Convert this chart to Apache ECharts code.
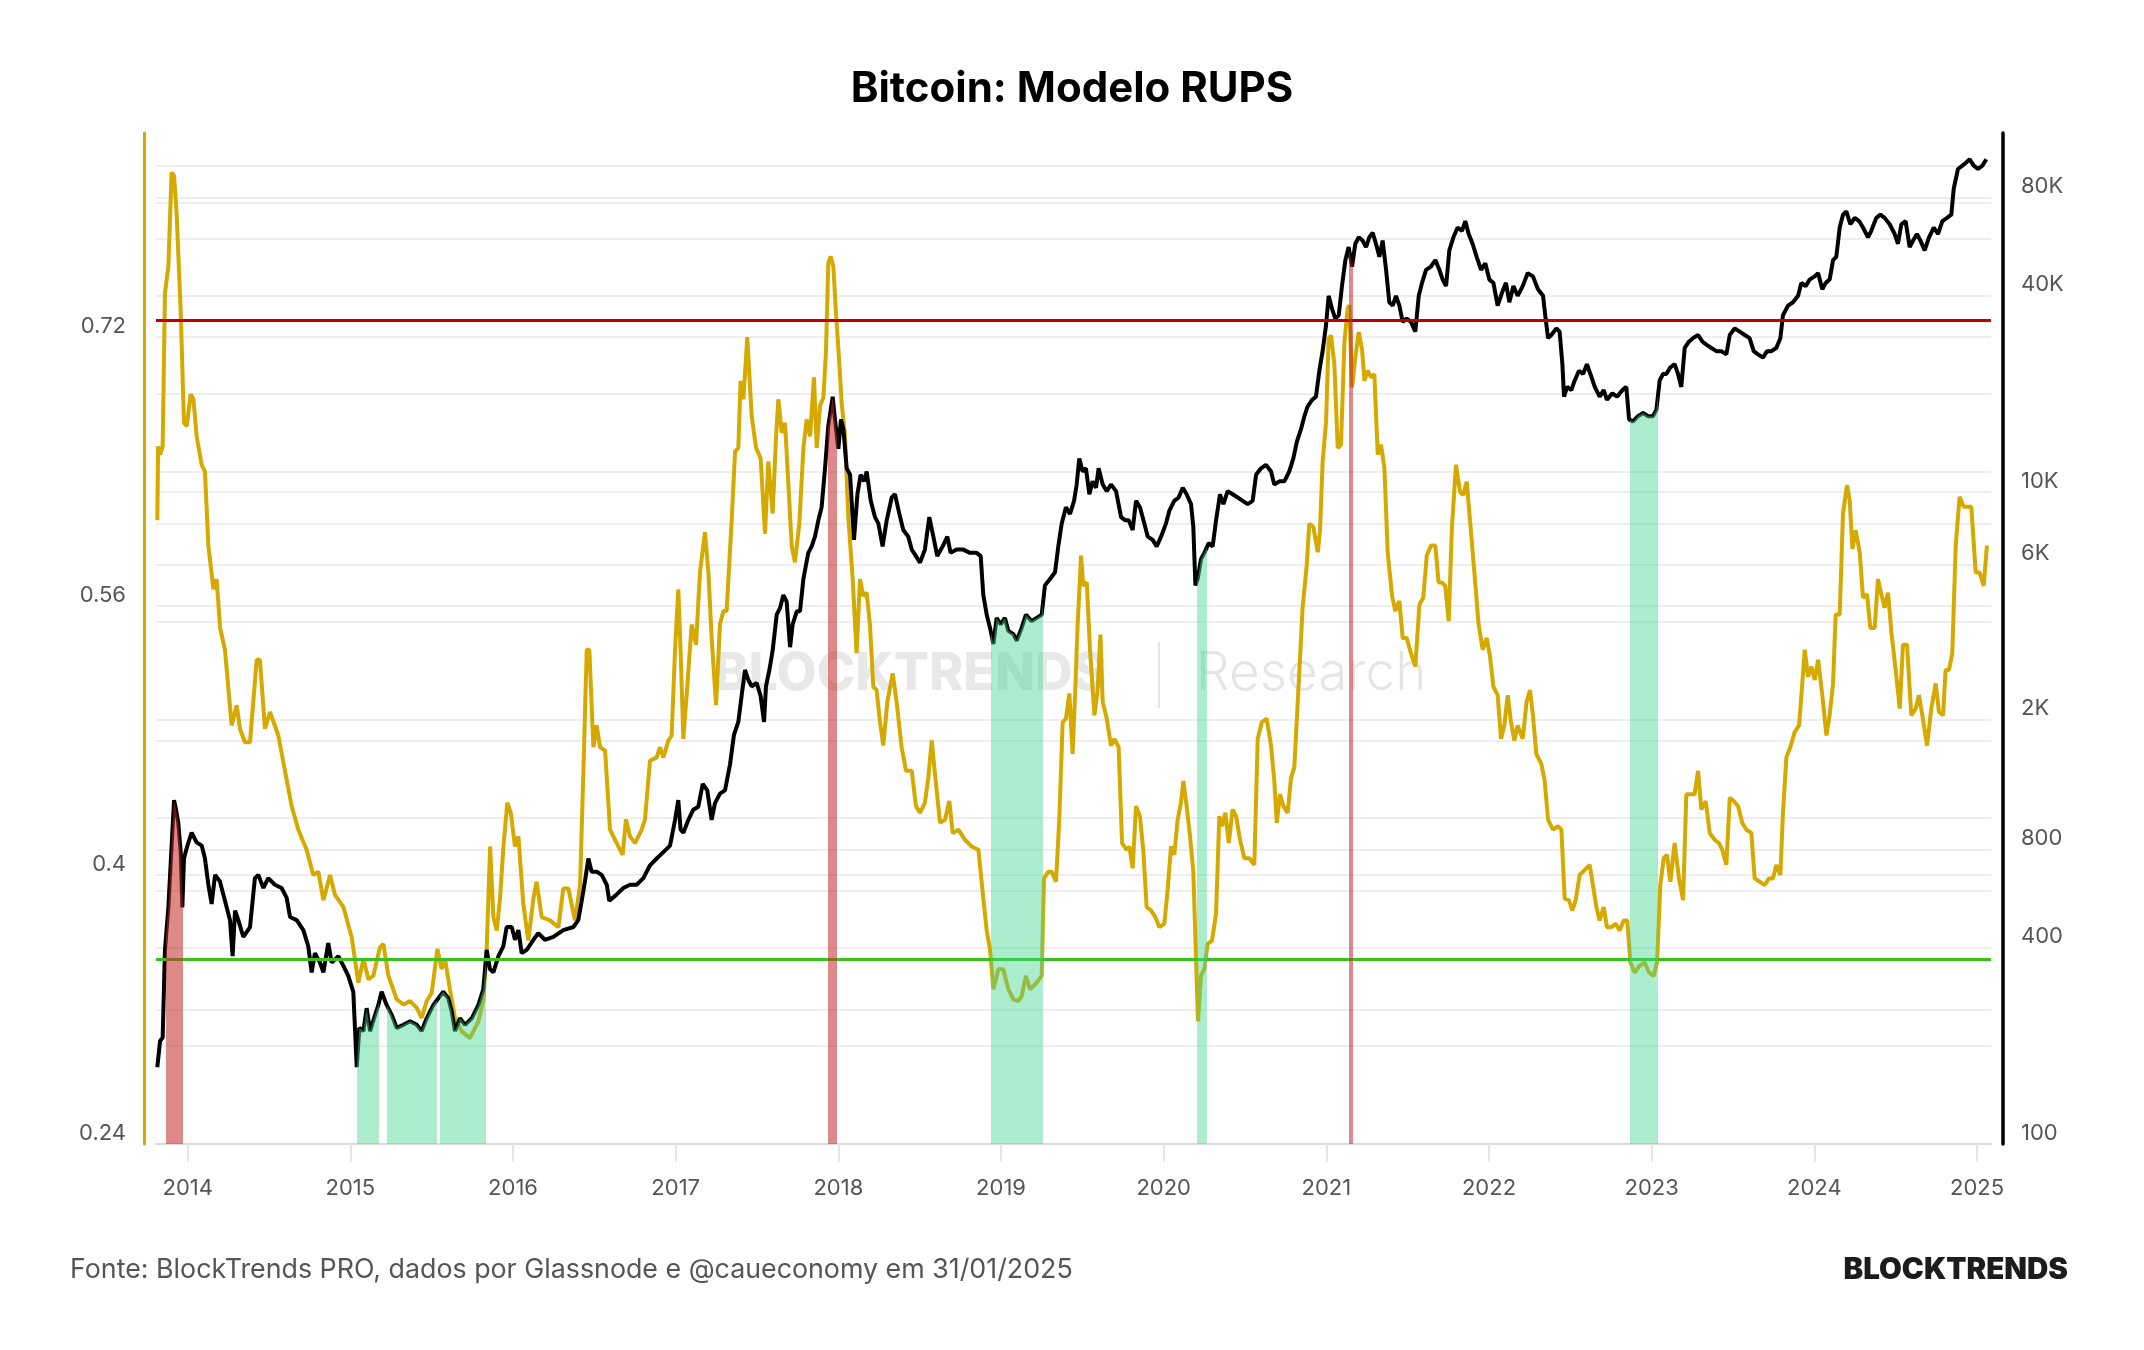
<!DOCTYPE html>
<html>
<head>
<meta charset="utf-8">
<title>Bitcoin: Modelo RUPS</title>
<script src="https://cdn.jsdelivr.net/npm/echarts@6.0.0/dist/echarts.min.js"></script>
<style>
	html, body { margin: 0; padding: 0; background: #fff; }
	#chart { width: 2144px; height: 1350px; }
</style>
</head>
<body>
<div id="chart"></div>
<script>
// eixo x em anos decimais
const rupsYears = [
	2013.813, 2013.818, 2013.830, 2013.846, 2013.860, 2013.881, 2013.901, 2013.916, 2013.932, 2013.957, 2013.977, 2013.994,
	2014.018, 2014.035, 2014.055, 2014.086, 2014.106, 2014.127, 2014.158, 2014.178, 2014.199, 2014.229, 2014.270, 2014.301, 2014.321, 2014.352, 2014.383, 2014.424, 2014.444, 2014.475, 2014.506, 2014.557, 2014.598, 2014.639, 2014.680, 2014.731, 2014.772, 2014.803, 2014.834, 2014.875, 2014.906, 2014.957,
	2015.008, 2015.049, 2015.080, 2015.111, 2015.141, 2015.182, 2015.203, 2015.234, 2015.285, 2015.326, 2015.367, 2015.408, 2015.438, 2015.469, 2015.500, 2015.535, 2015.561, 2015.582, 2015.612, 2015.643, 2015.684, 2015.735, 2015.787, 2015.818, 2015.838, 2015.859, 2015.879, 2015.900, 2015.920, 2015.941, 2015.965, 2015.986,
	2016.012, 2016.033, 2016.063, 2016.094, 2016.125, 2016.145, 2016.176, 2016.227, 2016.279, 2016.309, 2016.340, 2016.381, 2016.412, 2016.432, 2016.453, 2016.469, 2016.494, 2016.514, 2016.535, 2016.566, 2016.596, 2016.647, 2016.674, 2016.694, 2016.719, 2016.750, 2016.791, 2016.811, 2016.842, 2016.883, 2016.903, 2016.924, 2016.955, 2016.975, 2016.996,
	2017.016, 2017.030, 2017.047, 2017.071, 2017.098, 2017.125, 2017.149, 2017.180, 2017.201, 2017.221, 2017.248, 2017.272, 2017.293, 2017.313, 2017.344, 2017.365, 2017.385, 2017.399, 2017.416, 2017.440, 2017.467, 2017.494, 2017.522, 2017.549, 2017.569, 2017.596, 2017.617, 2017.631, 2017.652, 2017.672, 2017.693, 2017.713, 2017.733, 2017.760, 2017.785, 2017.805, 2017.826, 2017.850, 2017.867, 2017.887, 2017.908, 2017.924, 2017.938, 2017.953, 2017.969, 2017.985,
	2018.006, 2018.020, 2018.041, 2018.061, 2018.088, 2018.112, 2018.133, 2018.153, 2018.174, 2018.194, 2018.215, 2018.235, 2018.256, 2018.276, 2018.301, 2018.334, 2018.358, 2018.389, 2018.416, 2018.451, 2018.477, 2018.502, 2018.532, 2018.553, 2018.574, 2018.594, 2018.625, 2018.656, 2018.682, 2018.703, 2018.738, 2018.778, 2018.819, 2018.861, 2018.891, 2018.912, 2018.932, 2018.953, 2018.984,
	2019.014, 2019.045, 2019.076, 2019.106, 2019.127, 2019.153, 2019.178, 2019.219, 2019.250, 2019.264, 2019.291, 2019.311, 2019.338, 2019.358, 2019.379, 2019.399, 2019.420, 2019.440, 2019.455, 2019.471, 2019.492, 2019.506, 2019.527, 2019.547, 2019.574, 2019.594, 2019.611, 2019.625, 2019.650, 2019.676, 2019.697, 2019.723, 2019.744, 2019.772, 2019.789, 2019.809, 2019.830, 2019.854, 2019.875, 2019.895, 2019.922, 2019.949, 2019.973,
	2020.004, 2020.025, 2020.045, 2020.065, 2020.086, 2020.106, 2020.121, 2020.141, 2020.162, 2020.182, 2020.199, 2020.211, 2020.229, 2020.250, 2020.270, 2020.297, 2020.322, 2020.342, 2020.359, 2020.379, 2020.400, 2020.424, 2020.445, 2020.469, 2020.496, 2020.527, 2020.557, 2020.578, 2020.604, 2020.633, 2020.660, 2020.680, 2020.695, 2020.715, 2020.736, 2020.762, 2020.783, 2020.803, 2020.830, 2020.854, 2020.879, 2020.895, 2020.920, 2020.947, 2020.961, 2020.977, 2020.998,
	2021.014, 2021.029, 2021.049, 2021.070, 2021.090, 2021.111, 2021.131, 2021.141, 2021.158, 2021.178, 2021.199, 2021.219, 2021.234, 2021.254, 2021.275, 2021.295, 2021.316, 2021.336, 2021.357, 2021.377, 2021.404, 2021.424, 2021.449, 2021.469, 2021.494, 2021.520, 2021.547, 2021.572, 2021.596, 2021.617, 2021.643, 2021.670, 2021.690, 2021.711, 2021.731, 2021.752, 2021.772, 2021.797, 2021.822, 2021.842, 2021.863, 2021.883, 2021.910, 2021.936, 2021.961, 2021.986,
	2022.006, 2022.027, 2022.053, 2022.074, 2022.094, 2022.115, 2022.135, 2022.156, 2022.176, 2022.207, 2022.231, 2022.252, 2022.270, 2022.291, 2022.322, 2022.342, 2022.363, 2022.393, 2022.424, 2022.445, 2022.465, 2022.492, 2022.512, 2022.533, 2022.557, 2022.578, 2022.598, 2022.619, 2022.639, 2022.660, 2022.680, 2022.705, 2022.725, 2022.752, 2022.779, 2022.803, 2022.828, 2022.850, 2022.869, 2022.895, 2022.926, 2022.957, 2022.984,
	2023.012, 2023.033, 2023.053, 2023.074, 2023.094, 2023.115, 2023.141, 2023.168, 2023.193, 2023.213, 2023.238, 2023.264, 2023.285, 2023.305, 2023.332, 2023.357, 2023.387, 2023.414, 2023.434, 2023.459, 2023.480, 2023.504, 2023.531, 2023.557, 2023.582, 2023.613, 2023.633, 2023.664, 2023.695, 2023.721, 2023.746, 2023.766, 2023.791, 2023.807, 2023.828, 2023.852, 2023.879, 2023.906, 2023.926, 2023.941, 2023.961, 2023.982,
	2024.002, 2024.023, 2024.049, 2024.074, 2024.094, 2024.115, 2024.131, 2024.156, 2024.176, 2024.201, 2024.217, 2024.234, 2024.254, 2024.279, 2024.299, 2024.324, 2024.344, 2024.371, 2024.391, 2024.412, 2024.432, 2024.453, 2024.473, 2024.500, 2024.525, 2024.545, 2024.570, 2024.596, 2024.623, 2024.643, 2024.664, 2024.693, 2024.719, 2024.746, 2024.766, 2024.791, 2024.807, 2024.828, 2024.848, 2024.869, 2024.893, 2024.918, 2024.945, 2024.965, 2024.992,
	2025.016, 2025.041, 2025.061
];
const rupsValues = [
	0.611, 0.655, 0.650, 0.655, 0.746, 0.762, 0.818, 0.816, 0.793, 0.735, 0.669, 0.667,
	0.686, 0.683, 0.661, 0.644, 0.640, 0.596, 0.570, 0.576, 0.547, 0.534, 0.489, 0.501, 0.487, 0.479, 0.479, 0.528, 0.528, 0.487, 0.497, 0.483, 0.462, 0.441, 0.427, 0.415, 0.400, 0.402, 0.385, 0.400, 0.388, 0.381,
	0.363, 0.336, 0.350, 0.338, 0.340, 0.357, 0.359, 0.340, 0.326, 0.323, 0.325, 0.321, 0.315, 0.325, 0.330, 0.356, 0.344, 0.350, 0.332, 0.315, 0.307, 0.303, 0.313, 0.326, 0.356, 0.417, 0.375, 0.367, 0.386, 0.417, 0.443, 0.437,
	0.417, 0.423, 0.383, 0.361, 0.386, 0.396, 0.375, 0.373, 0.369, 0.392, 0.392, 0.373, 0.394, 0.460, 0.534, 0.534, 0.476, 0.489, 0.476, 0.474, 0.427, 0.417, 0.412, 0.433, 0.423, 0.419, 0.427, 0.433, 0.468, 0.470, 0.476, 0.470, 0.480, 0.483, 0.534,
	0.570, 0.534, 0.481, 0.512, 0.549, 0.537, 0.580, 0.604, 0.580, 0.541, 0.501, 0.549, 0.557, 0.557, 0.611, 0.652, 0.654, 0.694, 0.683, 0.720, 0.673, 0.654, 0.648, 0.603, 0.646, 0.615, 0.661, 0.683, 0.663, 0.669, 0.632, 0.596, 0.586, 0.609, 0.654, 0.671, 0.661, 0.696, 0.654, 0.679, 0.684, 0.712, 0.764, 0.768, 0.762, 0.735,
	0.704, 0.681, 0.661, 0.613, 0.576, 0.532, 0.576, 0.566, 0.568, 0.549, 0.512, 0.510, 0.491, 0.477, 0.503, 0.520, 0.503, 0.476, 0.462, 0.462, 0.441, 0.437, 0.443, 0.458, 0.480, 0.460, 0.431, 0.433, 0.444, 0.425, 0.427, 0.421, 0.417, 0.415, 0.386, 0.367, 0.356, 0.332, 0.344,
	0.344, 0.332, 0.326, 0.325, 0.328, 0.340, 0.332, 0.336, 0.340, 0.398, 0.402, 0.402, 0.396, 0.433, 0.491, 0.493, 0.508, 0.472, 0.507, 0.549, 0.590, 0.572, 0.574, 0.534, 0.495, 0.510, 0.543, 0.503, 0.493, 0.477, 0.481, 0.476, 0.419, 0.415, 0.417, 0.404, 0.441, 0.435, 0.414, 0.381, 0.379, 0.375, 0.369,
	0.371, 0.392, 0.417, 0.412, 0.433, 0.443, 0.456, 0.441, 0.423, 0.402, 0.350, 0.313, 0.340, 0.344, 0.359, 0.361, 0.377, 0.435, 0.429, 0.437, 0.419, 0.439, 0.435, 0.421, 0.410, 0.410, 0.406, 0.481, 0.491, 0.493, 0.477, 0.456, 0.431, 0.448, 0.441, 0.437, 0.458, 0.464, 0.514, 0.559, 0.584, 0.609, 0.607, 0.592, 0.605, 0.646, 0.669,
	0.719, 0.721, 0.704, 0.654, 0.656, 0.717, 0.737, 0.739, 0.690, 0.708, 0.723, 0.713, 0.694, 0.700, 0.696, 0.698, 0.650, 0.656, 0.642, 0.592, 0.566, 0.557, 0.563, 0.541, 0.541, 0.532, 0.524, 0.561, 0.565, 0.590, 0.596, 0.596, 0.574, 0.574, 0.572, 0.551, 0.607, 0.644, 0.628, 0.626, 0.634, 0.611, 0.580, 0.549, 0.534, 0.541,
	0.530, 0.512, 0.507, 0.481, 0.489, 0.507, 0.491, 0.480, 0.489, 0.481, 0.503, 0.510, 0.495, 0.472, 0.466, 0.456, 0.433, 0.427, 0.429, 0.427, 0.386, 0.385, 0.379, 0.385, 0.400, 0.402, 0.404, 0.406, 0.394, 0.381, 0.373, 0.381, 0.369, 0.369, 0.371, 0.367, 0.373, 0.373, 0.348, 0.342, 0.346, 0.348, 0.342,
	0.340, 0.348, 0.394, 0.410, 0.412, 0.396, 0.419, 0.398, 0.385, 0.448, 0.448, 0.448, 0.462, 0.439, 0.444, 0.425, 0.421, 0.419, 0.415, 0.406, 0.446, 0.444, 0.441, 0.431, 0.427, 0.425, 0.398, 0.396, 0.394, 0.398, 0.398, 0.406, 0.400, 0.437, 0.470, 0.476, 0.485, 0.489, 0.514, 0.534, 0.518, 0.524,
	0.516, 0.528, 0.507, 0.483, 0.495, 0.514, 0.555, 0.555, 0.615, 0.632, 0.623, 0.594, 0.605, 0.592, 0.565, 0.567, 0.547, 0.547, 0.576, 0.567, 0.559, 0.568, 0.545, 0.522, 0.499, 0.537, 0.537, 0.495, 0.499, 0.507, 0.495, 0.477, 0.499, 0.514, 0.497, 0.495, 0.522, 0.522, 0.532, 0.596, 0.625, 0.619, 0.619, 0.619, 0.580,
	0.580, 0.572, 0.596
];

const priceYears = [
	2013.813, 2013.830, 2013.846, 2013.860, 2013.881, 2013.901, 2013.916, 2013.928, 2013.942, 2013.957, 2013.967, 2013.977, 2013.998,
	2014.024, 2014.055, 2014.086, 2014.106, 2014.127, 2014.147, 2014.168, 2014.198, 2014.229, 2014.260, 2014.276, 2014.291, 2014.311, 2014.342, 2014.383, 2014.413, 2014.434, 2014.465, 2014.495, 2014.536, 2014.577, 2014.608, 2014.629, 2014.670, 2014.711, 2014.741, 2014.762, 2014.782, 2014.813, 2014.834, 2014.864, 2014.885, 2014.926, 2014.957, 2014.987,
	2015.018, 2015.039, 2015.055, 2015.080, 2015.100, 2015.121, 2015.152, 2015.172, 2015.192, 2015.223, 2015.254, 2015.285, 2015.326, 2015.367, 2015.408, 2015.438, 2015.469, 2015.510, 2015.541, 2015.571, 2015.602, 2015.623, 2015.643, 2015.674, 2015.705, 2015.746, 2015.787, 2015.817, 2015.838, 2015.858, 2015.879, 2015.910, 2015.940, 2015.961, 2015.992,
	2016.012, 2016.033, 2016.053, 2016.084, 2016.125, 2016.155, 2016.196, 2016.248, 2016.309, 2016.371, 2016.401, 2016.422, 2016.442, 2016.463, 2016.483, 2016.514, 2016.545, 2016.576, 2016.592, 2016.637, 2016.678, 2016.719, 2016.760, 2016.801, 2016.842, 2016.883, 2016.924, 2016.965, 2016.996,
	2017.016, 2017.030, 2017.047, 2017.078, 2017.108, 2017.139, 2017.166, 2017.194, 2017.221, 2017.241, 2017.272, 2017.303, 2017.334, 2017.358, 2017.385, 2017.405, 2017.426, 2017.446, 2017.467, 2017.498, 2017.522, 2017.543, 2017.555, 2017.576, 2017.596, 2017.621, 2017.641, 2017.662, 2017.682, 2017.703, 2017.719, 2017.744, 2017.764, 2017.785, 2017.815, 2017.836, 2017.856, 2017.877, 2017.897, 2017.918, 2017.938, 2017.953, 2017.965, 2017.979,
	2018.000, 2018.016, 2018.031, 2018.051, 2018.072, 2018.096, 2018.117, 2018.137, 2018.158, 2018.174, 2018.199, 2018.225, 2018.246, 2018.272, 2018.297, 2018.328, 2018.348, 2018.375, 2018.399, 2018.430, 2018.451, 2018.477, 2018.502, 2018.532, 2018.559, 2018.584, 2018.608, 2018.641, 2018.670, 2018.690, 2018.727, 2018.768, 2018.809, 2018.850, 2018.875, 2018.891, 2018.912, 2018.932, 2018.953, 2018.973, 2018.998,
	2019.024, 2019.045, 2019.076, 2019.096, 2019.127, 2019.153, 2019.188, 2019.219, 2019.250, 2019.270, 2019.301, 2019.332, 2019.352, 2019.373, 2019.399, 2019.424, 2019.449, 2019.465, 2019.481, 2019.502, 2019.522, 2019.543, 2019.563, 2019.584, 2019.600, 2019.625, 2019.650, 2019.676, 2019.707, 2019.738, 2019.764, 2019.785, 2019.809, 2019.830, 2019.854, 2019.881, 2019.902, 2019.932, 2019.957, 2019.984,
	2020.014, 2020.035, 2020.065, 2020.092, 2020.117, 2020.141, 2020.168, 2020.182, 2020.195, 2020.209, 2020.229, 2020.250, 2020.277, 2020.301, 2020.322, 2020.346, 2020.367, 2020.393, 2020.424, 2020.455, 2020.486, 2020.516, 2020.547, 2020.568, 2020.598, 2020.629, 2020.660, 2020.680, 2020.711, 2020.742, 2020.772, 2020.797, 2020.818, 2020.844, 2020.865, 2020.885, 2020.912, 2020.936, 2020.957, 2020.977, 2020.998,
	2021.014, 2021.035, 2021.055, 2021.076, 2021.096, 2021.117, 2021.137, 2021.158, 2021.178, 2021.199, 2021.223, 2021.244, 2021.264, 2021.285, 2021.305, 2021.326, 2021.346, 2021.367, 2021.387, 2021.408, 2021.428, 2021.449, 2021.469, 2021.494, 2021.520, 2021.547, 2021.568, 2021.588, 2021.613, 2021.643, 2021.670, 2021.695, 2021.715, 2021.736, 2021.756, 2021.781, 2021.807, 2021.834, 2021.854, 2021.875, 2021.899, 2021.924, 2021.951, 2021.977,
	2022.002, 2022.027, 2022.053, 2022.080, 2022.104, 2022.125, 2022.150, 2022.176, 2022.207, 2022.238, 2022.270, 2022.301, 2022.332, 2022.348, 2022.363, 2022.383, 2022.414, 2022.434, 2022.451, 2022.461, 2022.480, 2022.506, 2022.527, 2022.553, 2022.578, 2022.602, 2022.623, 2022.650, 2022.680, 2022.705, 2022.725, 2022.758, 2022.787, 2022.820, 2022.844, 2022.861, 2022.885, 2022.916, 2022.947, 2022.977,
	2023.008, 2023.029, 2023.049, 2023.070, 2023.090, 2023.115, 2023.141, 2023.162, 2023.182, 2023.203, 2023.230, 2023.254, 2023.285, 2023.311, 2023.336, 2023.367, 2023.398, 2023.428, 2023.459, 2023.480, 2023.510, 2023.541, 2023.572, 2023.602, 2023.627, 2023.654, 2023.684, 2023.709, 2023.736, 2023.766, 2023.791, 2023.807, 2023.838, 2023.869, 2023.900, 2023.920, 2023.947, 2023.971,
	2024.002, 2024.023, 2024.049, 2024.070, 2024.094, 2024.115, 2024.135, 2024.156, 2024.176, 2024.197, 2024.221, 2024.248, 2024.275, 2024.299, 2024.330, 2024.350, 2024.381, 2024.406, 2024.432, 2024.463, 2024.494, 2024.514, 2024.535, 2024.561, 2024.586, 2024.607, 2024.631, 2024.652, 2024.678, 2024.705, 2024.734, 2024.760, 2024.787, 2024.816, 2024.842, 2024.857, 2024.883, 2024.910, 2024.934, 2024.955, 2024.980,
	2025.006, 2025.033, 2025.057
];
const priceValues = [
	172, 207, 212, 394, 532, 823, 1135, 1060, 966, 786, 532, 751, 823,
	901, 842, 823, 751, 624, 545, 669, 639, 557, 486, 377, 520, 486, 432, 463, 654, 669, 610, 654, 624, 610, 570, 497, 486, 453, 404, 336, 385, 360, 336, 413, 360, 377, 352, 328,
	293, 172, 227, 222, 261, 222, 249, 267, 293, 267, 249, 227, 232, 238, 232, 222, 243, 267, 280, 293, 280, 255, 222, 243, 232, 243, 267, 298, 394, 344, 336, 377, 404, 463, 463,
	423, 453, 385, 394, 423, 443, 423, 432, 453, 463, 486, 557, 639, 751, 684, 684, 669, 624, 557, 583, 610, 624, 624, 654, 716, 751, 786, 823, 987,
	1135, 922, 901, 987, 1060, 1083, 1273, 1215, 987, 1109, 1188, 1215, 1461, 1797, 1970, 2367, 2844, 2655, 2535, 2595, 2367, 1970, 2535, 2844, 3265, 4204, 4400, 4828, 4608, 3341, 3922, 4303, 4303, 5410, 6506, 6808, 7294, 8185, 8975, 11820, 15940, 17880, 19600, 16690,
	13560, 16690, 15580, 11820, 11290, 7129, 9837, 11290, 10780, 11560, 9392, 8375, 7999, 6808, 8185, 9617, 9837, 8565, 7645, 7294, 6657, 6358, 6072, 6657, 8375, 7294, 6358, 6808, 7294, 6506, 6657, 6657, 6506, 6506, 6358, 4828, 4204, 3835, 3417, 4109, 3922,
	4109, 3748, 3665, 3498, 3835, 4204, 4017, 4109, 4204, 5170, 5410, 5670, 6808, 7999, 8975, 8565, 9392, 10540, 12670, 11560, 11820, 9837, 10780, 10300, 11820, 10540, 10060, 10540, 10060, 8375, 8185, 8185, 7645, 9392, 8975, 7999, 7294, 7129, 6808, 7294,
	7999, 8770, 9392, 9617, 10300, 9837, 9180, 7823, 5170, 5410, 6217, 6506, 6967, 6808, 8185, 9837, 9180, 10060, 9837, 9617, 9392, 9180, 9392, 11290, 11820, 12110, 11560, 10540, 10780, 10780, 11560, 12670, 14210, 15580, 17080, 18290, 19170, 19600, 23550, 27030, 32490,
	39960, 36450, 34020, 34810, 42800, 51440, 56370, 49120, 57720, 60420, 59040, 56370, 60420, 62390, 57720, 52640, 59040, 48020, 38190, 37300, 39960, 37300, 33240, 34020, 33240, 31020, 39960, 43790, 48020, 49120, 51440, 48020, 44820, 42800, 55090, 60420, 64730, 63260, 67750, 61830, 57720, 52640, 48020, 50270,
	44820, 43790, 37300, 40890, 43790, 38190, 42800, 39960, 42800, 46920, 45850, 41840, 39960, 34020, 29630, 30300, 31750, 31020, 24660, 19600, 21000, 20530, 21980, 23550, 23010, 24660, 23010, 21000, 19600, 20530, 19170, 20060, 19600, 20530, 21000, 16690, 16460, 17080, 17470, 17080,
	17080, 17880, 21980, 23010, 23010, 24120, 24660, 23010, 21000, 27650, 28950, 29630, 30300, 28950, 28300, 27650, 27030, 27030, 26420, 30300, 31750, 31020, 30300, 29630, 27030, 26420, 25820, 27030, 27030, 27650, 29630, 34810, 37300, 38190, 39960, 43790, 42800, 44820,
	45850, 46920, 41840, 43790, 44820, 51440, 52640, 64730, 70870, 72550, 66240, 69300, 67750, 64730, 60420, 63260, 69300, 70870, 69300, 66240, 61830, 57720, 66240, 67750, 56370, 59040, 61830, 59040, 55090, 60420, 64730, 61830, 67750, 69300, 70870, 85260, 97860, 100200, 102470, 104800, 100200,
	97860, 100200, 104800
];

// limites do modelo RUPS
const upperLimit = 0.731;
const lowerLimit = 0.35;

// periodos acima / abaixo dos limites (anos decimais)
const redZones = [[2013.866, 2013.973], [2017.938, 2017.990], [2021.137, 2021.162]];
const greenZones = [[2015.043, 2015.178], [2015.223, 2015.533], [2015.549, 2015.834], [2018.938, 2019.260], [2020.203, 2020.264], [2022.865, 2023.041]];

const yearTicks = [2014, 2015, 2016, 2017, 2018, 2019, 2020, 2021, 2022, 2023, 2024, 2025];
const rupsLabels = [0.24, 0.4, 0.56, 0.72];
const rupsGrid = [0.32, 0.4, 0.48, 0.56, 0.64, 0.72, 0.8];
const priceLabels = [100, 400, 800, 2000, 6000, 10000, 40000, 80000];
const priceGrid = [200, 400, 600, 800, 1000, 2000, 4000, 6000, 8000, 10000, 20000, 40000, 60000, 80000, 100000];

const rupsData = rupsYears.map((x, i) => [x, rupsValues[i]]);
const priceData = priceYears.map((x, i) => [x, priceValues[i]]);

let zonePieces = [];
redZones.forEach(z => zonePieces.push({ gte: z[0], lte: z[1], color: 'rgba(196, 40, 40, 0.55)' }));
greenZones.forEach(z => zonePieces.push({ gte: z[0], lte: z[1], color: 'rgba(70, 214, 145, 0.45)' }));
zonePieces.sort((a, b) => a.gte - b.gte);

const FONT = 'Inter, "Noto Sans", sans-serif';
const gridLine = { color: '#eeeeee', width: 2 };

let myChart = echarts.init(document.getElementById('chart'));

let option = {
	animation: false,
	backgroundColor: '#ffffff',
	textStyle: { fontFamily: FONT },
	title: {
		text: 'Bitcoin: Modelo RUPS',
		left: 'center',
		top: 68,
		padding: 0,
		textStyle: { fontSize: 42, fontWeight: 'bold', color: '#000', fontFamily: FONT }
	},
	grid: { left: 156, right: 153, top: 133, bottom: 206 },
	xAxis: {
		type: 'value',
		min: 2013.805,
		max: 2025.086,
		axisLine: { onZero: false, lineStyle: { color: '#d9d9d9', width: 2 } },
		axisTick: { customValues: yearTicks, length: 18, lineStyle: { color: '#e6e6e6', width: 2 } },
		axisLabel: {
			customValues: yearTicks, margin: 33, color: '#555', fontSize: 22, fontFamily: FONT,
			formatter: v => String(Math.round(v))
		},
		splitLine: { show: false }
	},
	yAxis: [
		{
			type: 'value',
			position: 'left',
			offset: 12,
			min: 0.24,
			max: 0.8414,
			axisLine: { show: true, lineStyle: { color: '#d5a900', width: 3 } },
			axisTick: { show: false, customValues: rupsGrid },
			axisLabel: {
				customValues: rupsLabels, margin: 18, color: '#555', fontSize: 22, fontFamily: FONT,
				verticalAlign: 'bottom',
				formatter: v => String(v)
			},
			splitLine: { show: true, lineStyle: gridLine }
		},
		{
			type: 'log',
			logBase: 10,
			position: 'right',
			offset: 12,
			min: 100,
			max: 126200,
			axisLine: { show: true, lineStyle: { color: '#000', width: 3.5 } },
			axisTick: { show: false, customValues: priceGrid },
			axisLabel: {
				customValues: priceLabels, margin: 18, color: '#555', fontSize: 22, fontFamily: FONT,
				verticalAlign: 'bottom',
				formatter: v => (v >= 1000 ? (v / 1000) + 'K' : String(v))
			},
			splitLine: { show: true, lineStyle: gridLine }
		}
	],
	visualMap: {
		type: 'piecewise',
		show: false,
		dimension: 0,
		seriesIndex: 2,
		pieces: zonePieces,
		outOfRange: { color: 'rgba(255, 255, 255, 0)' }
	},
	series: [
		{
			name: 'RUPS',
			type: 'line',
			yAxisIndex: 0,
			data: rupsData,
			symbol: 'none',
			z: 3,
			lineStyle: { color: '#d5a900', width: 4 },
			markLine: {
				silent: true,
				symbol: ['none', 'none'],
				label: { show: false },
				data: [
					{ yAxis: upperLimit, lineStyle: { color: '#c00000', width: 3, type: 'solid' } },
					{ yAxis: lowerLimit, lineStyle: { color: '#38c21d', width: 3, type: 'solid' } }
				]
			}
		},
		{
			name: 'Preço',
			type: 'line',
			yAxisIndex: 1,
			data: priceData,
			symbol: 'none',
			z: 4,
			lineStyle: { color: '#000', width: 4 }
		},
		{
			// sombreado abaixo do preço nos periodos de extremo
			name: 'Zonas',
			type: 'line',
			yAxisIndex: 1,
			data: priceData,
			symbol: 'none',
			silent: true,
			z: 6,
			lineStyle: { width: 0 },
			areaStyle: { origin: 'start', opacity: 1 }
		}
	],
	graphic: [
		{
			type: 'text', x: 714, y: 674, z: 1, silent: true,
			style: { text: 'BLOCKTRENDS', fill: 'rgba(0, 0, 0, 0.09)', font: '800 52px ' + FONT, verticalAlign: 'middle' }
		},
		{
			type: 'rect', z: 1, silent: true,
			shape: { x: 1158, y: 642, width: 2, height: 66 },
			style: { fill: 'rgba(0, 0, 0, 0.1)' }
		},
		{
			type: 'text', x: 1196, y: 674, z: 1, silent: true,
			style: { text: 'Research', fill: 'rgba(0, 0, 0, 0.1)', font: '300 53px ' + FONT, verticalAlign: 'middle' }
		},
		{
			type: 'text', x: 70, y: 1270,
			style: { text: 'Fonte: BlockTrends PRO, dados por Glassnode e @caueconomy em 31/01/2025', fill: '#555', font: '26.8px ' + FONT, verticalAlign: 'middle' }
		},
		{
			type: 'text', x: 2068, y: 1270,
			style: { text: 'BLOCKTRENDS', fill: '#1c1c1c', font: '900 29.5px ' + FONT, align: 'right', verticalAlign: 'middle' }
		}
	]
};

option && myChart.setOption(option);
</script>
</body>
</html>
